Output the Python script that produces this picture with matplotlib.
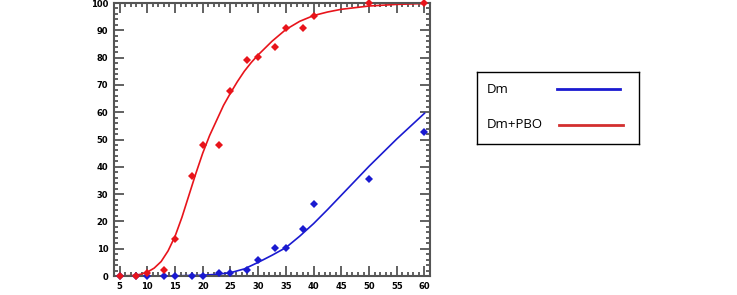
import matplotlib
matplotlib.use("Agg")
import matplotlib.pyplot as plt
from matplotlib.lines import Line2D
from matplotlib.ticker import MultipleLocator

# observed mortality (%)
x_pbo = [5, 8, 10, 13, 15, 18, 20, 23, 25, 28, 30, 33, 35, 38, 40, 50, 60]
y_pbo = [0, 0, 1.2, 2.3, 13.7, 36.6, 48.1, 48.1, 67.7, 79.2, 80.4, 83.8, 90.8, 90.8, 95.4, 100, 100]
x_dm = [5, 8, 10, 13, 15, 18, 20, 23, 25, 28, 30, 33, 35, 38, 40, 50, 60]
y_dm = [0, 0, 0, 0, 0, 0, 0, 1.1, 1.2, 2.3, 5.7, 10.3, 10.3, 17.2, 26.4, 35.6, 52.9]

# fitted curves
fx_pbo = [5, 7.5, 8.75, 10, 11.25, 12.5, 13.75, 15, 16.25, 17.5, 18.75, 20, 21.25, 22.5, 23.75, 25,
          26.25, 27.5, 28.75, 30, 32.5, 35, 37.5, 40, 42.5, 45, 50, 55, 60]
fy_pbo = [0, 0.2, 0.6, 1.4, 2.9, 5.3, 9.2, 14.5, 21.5, 29.5, 37.5, 45, 51.5, 57, 62.5, 67,
          71.2, 75, 78.2, 81, 86, 90.3, 93.3, 95.4, 96.7, 97.7, 98.9, 99.5, 99.8]
fx_dm = [5, 10, 15, 20, 22.5, 25, 27.5, 30, 32.5, 35, 37.5, 40, 42.5, 45, 47.5, 50, 55, 60]
fy_dm = [0, 0, 0.05, 0.3, 0.6, 1.2, 2.6, 5, 7.6, 10.4, 14.6, 19.2, 24.3, 29.6, 34.9, 40.2, 50.2, 59.6]

xticks = list(range(5, 61, 5))
yticks = list(range(0, 101, 10))

fig = plt.figure(figsize=(7.37, 2.95), dpi=100)
ax = fig.add_axes([0.1547, 0.0644, 0.4288, 0.9254])

red = "#e8141b"
blue = "#1a1ad0"
ax.plot(fx_pbo, fy_pbo, color=red, lw=1.2, clip_on=False)
ax.plot(fx_dm, fy_dm, color=blue, lw=1.2, clip_on=False)
ax.plot(x_dm, y_dm, "D", color=blue, ms=4.3, mew=0, clip_on=False, zorder=3)
ax.plot(x_pbo, y_pbo, "D", color=red, ms=4.3, mew=0, clip_on=False, zorder=4)

ax.set_xlim(4, 61)
ax.set_ylim(0, 100)
ax.set_xticks(xticks)
ax.set_yticks(yticks)
ax.xaxis.set_minor_locator(MultipleLocator(1))
ax.yaxis.set_minor_locator(MultipleLocator(2))
ax.tick_params(which="both", direction="in", top=True, right=True, color="#555555", width=1.3)
ax.tick_params(which="major", length=7, labelsize=6, pad=4)
ax.tick_params(which="minor", length=3)
for lab in ax.get_xticklabels() + ax.get_yticklabels():
    lab.set_fontweight("bold")
for sp in ax.spines.values():
    sp.set_color("#555555")
    sp.set_linewidth(1.5)

# legend box
W, H = 737, 295
lg = fig.add_axes([477 / W, 1 - 144 / H, 162 / W, 72 / H])
lg.set_xlim(477, 639)
lg.set_ylim(144, 72)
lg.set_xticks([])
lg.set_yticks([])
for sp in lg.spines.values():
    sp.set_color("black")
    sp.set_linewidth(1)
lg.text(487, 89, "Dm", fontsize=9.5, family="Open Sans", va="center")
lg.text(487, 124, "Dm+PBO", fontsize=9.5, family="Open Sans", va="center")
lg.add_line(Line2D([557, 620], [89, 89], color=blue, lw=2))
lg.add_line(Line2D([559, 623], [125, 125], color="#d32f2f", lw=2))

fig.savefig("out.png", dpi=100)
